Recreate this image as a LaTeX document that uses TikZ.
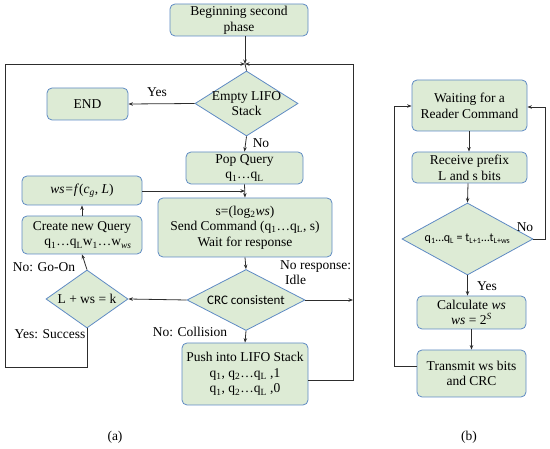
\documentclass[tikz,border=0pt]{standalone}
\usepackage{fontspec}
\setmainfont{Liberation Serif}
\newfontfamily\sansf{Carlito}
\usetikzlibrary{shapes.geometric,arrows.meta,calc}
\definecolor{boxfill}{RGB}{221,235,213}
\definecolor{boxdraw}{RGB}{94,138,196}
\definecolor{linec}{RGB}{45,45,45}
\begin{document}
\begin{tikzpicture}[x=1pt,y=-1pt,
  font=\fontsize{13.5}{15.7}\selectfont,
  box/.style={draw=boxdraw, fill=boxfill, rounded corners=5pt, line width=0.8pt, align=center, inner sep=0pt},
  dia/.style={draw=boxdraw, fill=boxfill, diamond, line width=0.8pt, inner sep=0pt},
  txt/.style={align=center, inner sep=0pt},
  conn/.style={draw=linec, line width=0.8pt},
  arr/.style={conn, -{Stealth[length=4.5pt,width=3.5pt]}},
]
\useasboundingbox (0,0) rectangle (550,449);
% ---------- panel (a) ----------
\node[box, minimum width=138pt, minimum height=32pt] (begin) at (239,20) {Beginning second\\phase};
\coordinate (m) at (245,64);
\node[dia, minimum width=103pt, minimum height=65pt] (d1) at (246.5,103.5) {};
\node[txt] (d1t) at (d1) {Empty LIFO\\Stack};
\node[box, minimum width=81pt, minimum height=32pt] (endn) at (87.5,104) {END};
\node[box, minimum width=117pt, minimum height=32pt] (pop) at (244.5,168) {Pop Query\\q\textsubscript{1}…q\textsubscript{L}};
\node[box, minimum width=120pt, minimum height=29pt] (wsf) at (82,190.5) {\textit{ws=f}(\textit{c}\textsubscript{\textit{g}}, \textit{L})};
\node[box, minimum width=174pt, minimum height=59pt] (send) at (245,227.5) {s=(log\textsubscript{2}\textit{ws})\\Send Command (q\textsubscript{1}…q\textsubscript{L}, s)\\Wait for response};
\node[box, minimum width=120pt, minimum height=38pt] (create) at (82,235) {Create new Query\\\hspace*{12pt}q\textsubscript{1}…q\textsubscript{L}w\textsubscript{1}…w\textsubscript{\textit{ws}}};
\node[dia, minimum width=82pt, minimum height=58pt] (d2) at (87,299) {};
\node[txt] (d2t) at (d2) {L + ws = k};
\node[dia, minimum width=118pt, minimum height=61pt] (crc) at (246,300) {};
\node[txt, font=\sansf\fontsize{13}{15.5}\selectfont] (crct) at (crc) {CRC consistent};
\node[box, minimum width=126pt, minimum height=62pt] (push) at (245,374) {Push into LIFO Stack\\q\textsubscript{1}, q\textsubscript{2}…q\textsubscript{L} ,1\\q\textsubscript{1}, q\textsubscript{2}…q\textsubscript{L} ,0};
\coordinate (j) at (245,191);
\coordinate (r) at (353,300);
\coordinate (rt) at (353,64);
\coordinate (lt) at (5,64);
\coordinate (lb) at (5,367);
\coordinate (db) at (87,367);
\coordinate (pe) at (308,380);
\coordinate (pr) at (353,380);

\draw[arr] (begin.south -| m) -- (m);
\draw[conn] (m) -- (d1.north);
\draw[arr] (d1.west) -- (endn.east);
\draw[arr] (d1.south) -- (pop.north);
\draw[arr] (pop.south) -- (send.north);
\draw[arr] (wsf.east |- j) -- (j);
\draw[arr] (create.north) -- (wsf.south);
\draw[arr] (d2.north) -- (create.south);
\draw[arr] (send.south) -- (crc.north);
\draw[arr] (crc.west) -- (d2.east);
\draw[arr] (crc.east) -- (r);
\draw[arr] (crc.south) -- (push.north);
\draw[conn] (pe) -- (pr) -- (rt);
\draw[arr] (rt) -- (m);
\draw[conn] (d2.south) -- (db) -- (lb) -- (lt);
\draw[arr] (lt) -- (m);

\node[txt] (lyes) at (157,92) {Yes};
\node[txt] (lno) at (261,143) {No};
\node[txt] (lgo) at (44,267) {No: Go-On};
\node[txt] (lsucc) at (50,334) {Yes: Success};
\node[txt] (lcoll) at (190,332) {No: Collision};
\node[txt, align=left, anchor=north west] (lidle) at (280,260) {No response:\\\hspace*{5pt}Idle};
\node[txt] (capa) at (115,437) {(a)};

% ---------- panel (b) ----------
\node[box, minimum width=115pt, minimum height=51pt] (wait) at (469.5,105.5) {Waiting for a\\Reader Command};
\node[box, minimum width=115pt, minimum height=31pt] (recv) at (469.5,167.5) {Receive prefix\\L and s bits};
\node[dia, minimum width=131pt, minimum height=72pt] (d3) at (467.5,239) {};
\node[txt, font=\sansf\fontsize{12}{14}\selectfont] (d3t) at (d3) {q\textsubscript{1}…q\textsubscript{L} = t\textsubscript{L+1}…t\textsubscript{L+ws}};
\node[box, minimum width=109pt, minimum height=33pt] (calc) at (471.5,312.5) {Calculate \textit{ws}\\\textit{ws} = 2\textsuperscript{\textit{S}}};
\node[box, minimum width=109pt, minimum height=47pt] (trans) at (471.5,373.5) {Transmit ws bits\\and CRC};
\coordinate (nr) at (545,239);
\coordinate (nt) at (545,107);
\coordinate (tl) at (417,366);
\coordinate (tb) at (394,366);
\coordinate (tt) at (394,106);

\draw[arr] (wait.south -| 469,0) -- (recv.north -| 469,0);
\draw[arr] (recv.south -| 468,0) -- (d3.north);
\draw[arr] (d3.south) -- (d3.south |- calc.north);
\draw[arr] (calc.south) -- (trans.north);
\draw[conn] (d3.east) -- (nr) -- (nt);
\draw[arr] (nt) -- (wait.east |- nt);
\draw[conn] (tl) -- (tb) -- (tt);
\draw[arr] (tt) -- (wait.west |- tt);

\node[txt] (lno2) at (525,227) {No};
\node[txt] (lyes2) at (487,286) {Yes};
\node[txt] (capb) at (469,437) {(b)};
\end{tikzpicture}
\end{document}
